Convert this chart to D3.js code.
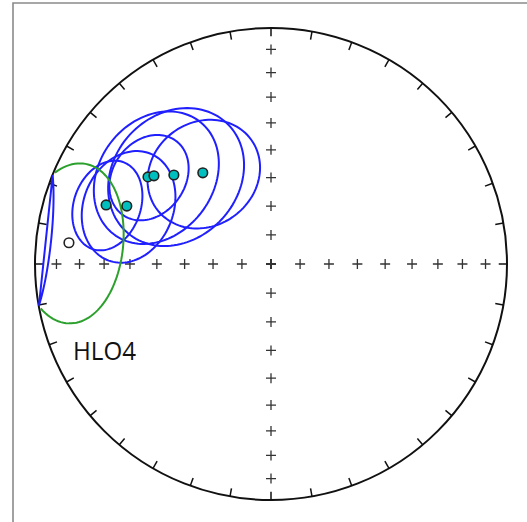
<!DOCTYPE html>
<html>
<head>
<meta charset="utf-8">
<script src="https://cdn.jsdelivr.net/npm/d3@7"></script>
<style>
  body { margin: 0; background: #fff; }
  svg { display: block; }
</style>
</head>
<body>
<svg id="net" width="527" height="522"></svg>
<script>
// site means (lower hemisphere, filled) - dec, inc, a95 in degrees
var decs = [289.7, 291.9, 305.3, 307.0, 312.5, 323.2];
var incs = [26.7, 34.5, 36.3, 37.9, 43.5, 50.1];
var a95s = [13.5, 17.5, 14, 22, 23.5, 19];
// upper hemisphere mean (open symbol)
var upDecs = [276];
var upIncs = [-15];
var upA95s = [22];
var label = "HLO4";
var gridIncs = [10, 20, 30, 40, 50, 60, 70, 80, 90];
var gridDecs = [0, 90, 180, 270];

var svg = d3.select("#net");
var cx = 271, cy = 264, R = 236;
var x = d3.scaleLinear().domain([-1, 1]).range([cx - R, cx + R]);
var y = d3.scaleLinear().domain([-1, 1]).range([cy + R, cy - R]);
var rad = Math.PI / 180;

/* equal area projection -> [px, py] */
function proj(dec, inc) {
	var r = Math.SQRT2 * Math.sin((90 - Math.abs(inc)) * rad / 2);
	return [x(r * Math.sin(dec * rad)), y(r * Math.cos(dec * rad))];
}

/* points on a cone of half angle a around (dec, inc) */
function cone(dec, inc, a) {
	var D = dec * rad, I = inc * rad, A = a * rad;
	var m = [Math.cos(I) * Math.cos(D), Math.cos(I) * Math.sin(D), Math.sin(I)];
	var e1 = [-Math.sin(I) * Math.cos(D), -Math.sin(I) * Math.sin(D), Math.cos(I)];
	var e2 = [-Math.sin(D), Math.cos(D), 0];
	var pts = [];
	for (var k = 0; k <= 120; k++) {
		var t = 2 * Math.PI * k / 120;
		var v = [0, 1, 2].map(function(j) {
			return Math.cos(A) * m[j] + Math.sin(A) * (Math.cos(t) * e1[j] + Math.sin(t) * e2[j]);
		});
		var pd = Math.atan2(v[1], v[0]) / rad;
		var pi = Math.asin(Math.max(-1, Math.min(1, v[2]))) / rad;
		pts.push({dec: pd, inc: pi});
	}
	return pts;
}

// frame
svg.append("path")
	.attr("d", "M13,522 L13,3 L527,3")
	.style("fill", "none")
	.style("stroke", "#8a8a8a")
	.style("stroke-width", 1.6);

// primitive
svg.append("circle")
	.attr("cx", x(0)).attr("cy", y(0)).attr("r", x(1) - x(0))
	.style("fill", "none")
	.style("stroke", "#111")
	.style("stroke-width", 2);

// ticks every 10 degrees
svg.append("g").selectAll("line")
	.data(d3.range(0, 360, 10))
	.enter().append("line")
	.attr("x1", function(d) { return x(Math.sin(d * rad)); })
	.attr("y1", function(d) { return y(Math.cos(d * rad)); })
	.attr("x2", function(d) { return x(0.965 * Math.sin(d * rad)); })
	.attr("y2", function(d) { return y(0.965 * Math.cos(d * rad)); })
	.style("stroke", "#111")
	.style("stroke-width", 1.5);

// crosses along the axes
var crossPts = [];
gridDecs.forEach(function(d) {
	gridIncs.forEach(function(i) { crossPts.push(proj(d, i)); });
});
svg.append("g").selectAll("path")
	.data(crossPts)
	.enter().append("path")
	.attr("d", function(p) {
		return "M" + (p[0] - 5) + "," + p[1] + "H" + (p[0] + 5) +
			"M" + p[0] + "," + (p[1] - 5) + "V" + (p[1] + 5);
	})
	.style("stroke", "#333")
	.style("stroke-width", 1.3);

var line = d3.line().x(function(d) { return d[0]; }).y(function(d) { return d[1]; });

// confidence cones
function drawCone(dec, inc, a) {
	var pts = cone(dec, inc, a);
	var low = [], up = [];
	pts.forEach(function(p) {
		if (p.inc >= 0) low.push(proj(p.dec, p.inc));
		else up.push(proj(p.dec, p.inc));
	});
	if (low.length) svg.append("path").attr("d", line(low))
		.style("fill", "none").style("stroke", "#1f1fff").style("stroke-width", 2);
	if (up.length) svg.append("path").attr("d", line(up))
		.style("fill", "none").style("stroke", "#2ca02c").style("stroke-width", 2);
}
decs.forEach(function(d, i) { drawCone(d, incs[i], a95s[i]); });
upDecs.forEach(function(d, i) { drawCone(d, upIncs[i], upA95s[i]); });

// means
svg.append("g").selectAll("circle")
	.data(decs)
	.enter().append("circle")
	.attr("cx", function(d, i) { return proj(d, incs[i])[0]; })
	.attr("cy", function(d, i) { return proj(d, incs[i])[1]; })
	.attr("r", 4.8)
	.style("fill", "#00bfbf")
	.style("stroke", "#222")
	.style("stroke-width", 1.6);

svg.append("g").selectAll("circle")
	.data(upDecs)
	.enter().append("circle")
	.attr("cx", function(d, i) { return proj(d, upIncs[i])[0]; })
	.attr("cy", function(d, i) { return proj(d, upIncs[i])[1]; })
	.attr("r", 4.8)
	.style("fill", "#fff")
	.style("stroke", "#222")
	.style("stroke-width", 1.6);

svg.append("text")
	.attr("x", 73).attr("y", 360)
	.attr("textLength", 63).attr("lengthAdjust", "spacingAndGlyphs")
	.style("font-family", "'Open Sans', 'Noto Sans', sans-serif")
	.style("font-size", "26px")
	.style("fill", "#111")
	.text(label);
</script>
</body>
</html>
